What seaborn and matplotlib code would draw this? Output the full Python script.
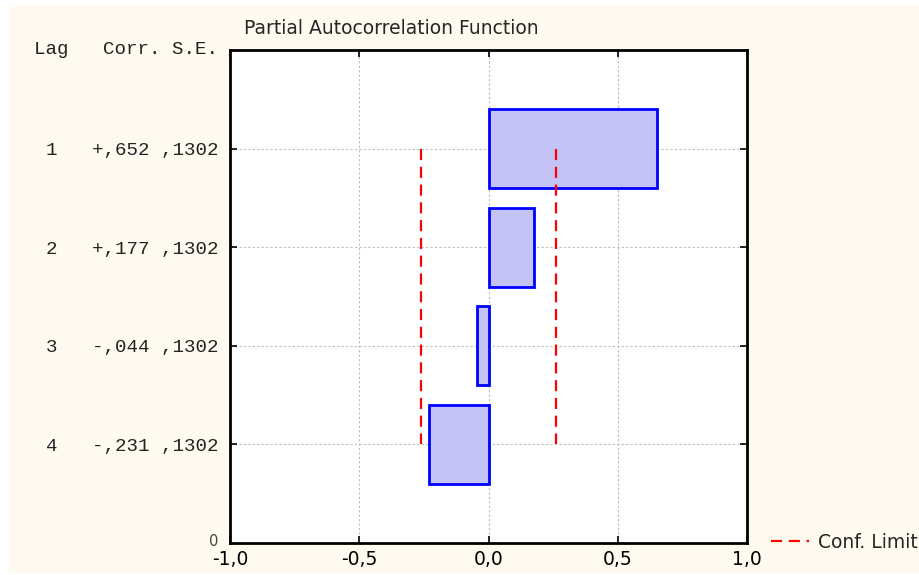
import matplotlib
matplotlib.use("Agg")
import matplotlib.pyplot as plt
from matplotlib.patches import Rectangle
import seaborn as sns
import pandas as pd

# ---- data ----
lags = [1, 2, 3, 4]
corr = [0.652, 0.177, -0.044, -0.231]
se = [0.1302, 0.1302, 0.1302, 0.1302]
corr_labels = ["+,652", "+,177", "-,044", "-,231"]
se_labels = [",1302", ",1302", ",1302", ",1302"]
x_ticks = [-1.0, -0.5, 0.0, 0.5, 1.0]
x_tick_labels = ["-1,0", "-0,5", "0,0", "0,5", "1,0"]
title = "Partial Autocorrelation Function"
header = "Lag   Corr. S.E."
legend_label = "Conf. Limit"

df = pd.DataFrame({"lag": lags, "corr": corr, "se": se})
conf = [2 * s for s in se]

sns.set_theme(style="white")
plt.rcParams["font.family"] = ["DejaVu Sans"]

W, H = 919, 575
fig = plt.figure(figsize=(W / 100, H / 100), dpi=100)
fig.patch.set_facecolor("white")
fig.patches.append(Rectangle((9 / W, 2 / H), (W - 9) / W, (H - 7) / H,
                             transform=fig.transFigure, facecolor="#fffaef",
                             edgecolor="none", zorder=-10))

ax = fig.add_axes([230 / W, (H - 543) / H, 517 / W, 493 / H])
ax.set_facecolor("white")

sns.barplot(data=df, x="corr", y="lag", orient="h", native_scale=True,
            width=0.8, color="#c3c3f5", saturation=1, edgecolor="#0000ff",
            linewidth=2, ax=ax, zorder=3)

sns.lineplot(x=[-c for c in conf], y=lags, estimator=None, sort=False,
             color="#ff0000", linewidth=1.6, dashes=False, ax=ax, zorder=4,
             label=legend_label)
sns.lineplot(x=conf, y=lags, estimator=None, sort=False,
             color="#ff0000", linewidth=1.6, dashes=False, ax=ax, zorder=4)
for ln in ax.get_lines():
    ln.set_linestyle((0, (5, 3)))

ax.set_xlim(-1.0, 1.0)
ax.set_ylim(5, 0)
ax.set_xticks(x_ticks)
ax.set_xticklabels(x_tick_labels, fontsize=13.5)
ax.set_yticks(lags)
ax.set_yticklabels([f"{l}   {c} {s}" for l, c, s in zip(lags, corr_labels, se_labels)],
                   family="Liberation Mono", fontsize=13.8, color="#222222")
ax.set_xlabel("")
ax.set_ylabel("")

ax.grid(True, linestyle=(0, (2, 2)), color="#bdbdbd", linewidth=0.8, zorder=0)
ax.set_axisbelow(True)
ax.tick_params(axis="both", direction="in", length=5, width=1.2, color="black",
               top=True, right=True, bottom=True, left=True)
ax.tick_params(axis="x", pad=5, labelcolor="black")
ax.tick_params(axis="y", pad=8)
for sp in ax.spines.values():
    sp.set_visible(True)
    sp.set_color("black")
    sp.set_linewidth(2)

fig.text(244 / W, 1 - 28 / H, title, ha="left", va="center", fontsize=13.5)
fig.text(218 / W, 1 - 50 / H, header, ha="right", va="center",
         family="Liberation Mono", fontsize=13.8, color="#222222")
fig.text(218 / W, 1 - 541 / H, "0", ha="right", va="center", fontsize=10.5,
         color="#444444")

leg = ax.legend(loc="center left", bbox_to_anchor=(771 / W, 1 - 542 / H),
                bbox_transform=fig.transFigure, frameon=False, fontsize=13.5,
                handlelength=2.0, handletextpad=0.5, borderaxespad=0,
                borderpad=0)

fig.savefig("out.png", dpi=100, facecolor=fig.get_facecolor())
